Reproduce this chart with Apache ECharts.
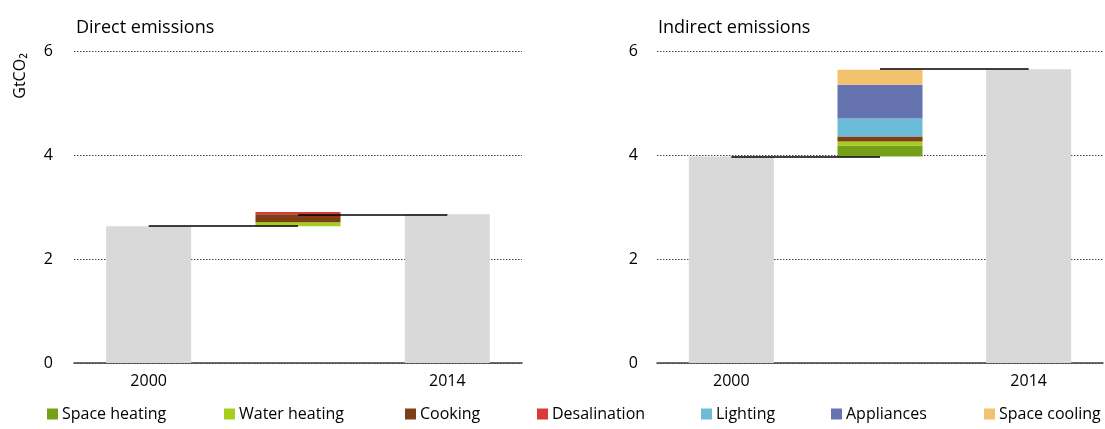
<!DOCTYPE html>
<html>
<head>
<meta charset="utf-8">
<script src="https://cdn.jsdelivr.net/npm/echarts@6/dist/echarts.min.js"></script>
<style>
html,body{margin:0;padding:0;background:#fff;}
#chart{width:1105px;height:429px;}
</style>
</head>
<body>
<div id="chart"></div>
<script>
// ---- data ----
const categories = ['2000', 'change', '2014'];
const yTicks = [0, 2, 4, 6];
const panelTitles = ['Direct emissions', 'Indirect emissions'];
const directTotals = [2.63, null, 2.86];
const indirectTotals = [3.97, null, 5.65];
const endUses = ['Space heating', 'Water heating', 'Cooking', 'Desalination', 'Lighting', 'Appliances', 'Space cooling'];
const directChange = [0, 0.077, 0.154, 0.044, 0, 0, 0];
const indirectChange = [0.211, 0.077, 0.096, 0, 0.346, 0.653, 0.288];
const endUseColors = ['#77a01a', '#a6cf1c', '#7e3f17', '#d83a36', '#6cbcd7', '#6574b0', '#f2c26f'];
const legendLefts = [47, 224, 405, 537, 701, 831, 984];

const FONT = 'Open Sans';
const chart = echarts.init(document.getElementById('chart'), null, {renderer: 'canvas'});

function panelSeries(idx, totals, change) {
  const s = [];
  const start = totals[0];
  const end = totals[2];
  s.push({
    name: 'base' + idx, type: 'bar', stack: 's' + idx,
    xAxisIndex: idx, yAxisIndex: idx, barWidth: 85, z: 5,
    itemStyle: {color: 'rgba(0,0,0,0)'}, silent: true,
    data: [null, start, null],
    markLine: {
      silent: true, symbol: 'none',
      label: {show: false},
      lineStyle: {color: '#000', width: 1.5, type: 'solid'},
      data: [
        [{coord: [categories[0], start]}, {coord: [categories[1], start]}],
        [{coord: [categories[1], end]}, {coord: [categories[2], end]}]
      ]
    }
  });
  s.push({
    name: 'total' + idx, type: 'bar', stack: 's' + idx,
    xAxisIndex: idx, yAxisIndex: idx, barWidth: 85,
    itemStyle: {color: '#d9d9d9'}, silent: true,
    data: totals
  });
  endUses.forEach((name, i) => {
    s.push({
      name: name, type: 'bar', stack: 's' + idx,
      xAxisIndex: idx, yAxisIndex: idx, barWidth: 85,
      itemStyle: {color: endUseColors[i]},
      data: [null, change[i], null]
    });
  });
  return s;
}

const grids = [
  {left: 74, right: 583, top: 51, bottom: 66},
  {left: 657, right: 2, top: 51, bottom: 66}
];

const option = {
  animation: false,
  textStyle: {fontFamily: FONT},
  title: panelTitles.map((t, i) => ({
    text: t, left: i === 0 ? 76 : 658, top: 19, padding: 0,
    textStyle: {fontFamily: FONT, fontSize: 18, fontWeight: 'normal', color: '#000'}
  })),
  legend: endUses.map((name, i) => ({
    data: [name], left: legendLefts[i], top: 406, padding: 0,
    icon: 'rect', itemWidth: 11, itemHeight: 11,
    selectedMode: false,
    textStyle: {fontFamily: FONT, fontSize: 16, color: '#000', padding: [0, 0, 0, -1]}
  })),
  grid: grids,
  xAxis: [0, 1].map(i => ({
    type: 'category', gridIndex: i, data: categories,
    axisLine: {lineStyle: {color: '#404040', width: 1.5}},
    axisTick: {show: false},
    axisLabel: {
      fontFamily: FONT, fontSize: 16, color: '#000', margin: 10,
      formatter: v => (v === categories[1] ? '' : v)
    }
  })),
  yAxis: [0, 1].map(i => ({
    type: 'value', gridIndex: i, min: yTicks[0], max: yTicks[yTicks.length - 1], interval: 2,
    axisLine: {show: false}, axisTick: {show: false},
    axisLabel: {fontFamily: FONT, fontSize: 16, color: '#000', margin: i === 0 ? 21 : 19},
    splitLine: {show: true, lineStyle: {color: '#444', width: 1, type: [1.5, 1.5]}}
  })),
  graphic: [{
    type: 'text', x: 20, y: 76, rotation: Math.PI / 2,
    style: {text: 'GtCO₂', fontFamily: FONT, fontSize: 16, fill: '#000', textAlign: 'center', textVerticalAlign: 'middle'}
  }],
  series: [].concat(panelSeries(0, directTotals, directChange), panelSeries(1, indirectTotals, indirectChange))
};
chart.setOption(option);
</script>
</body>
</html>
